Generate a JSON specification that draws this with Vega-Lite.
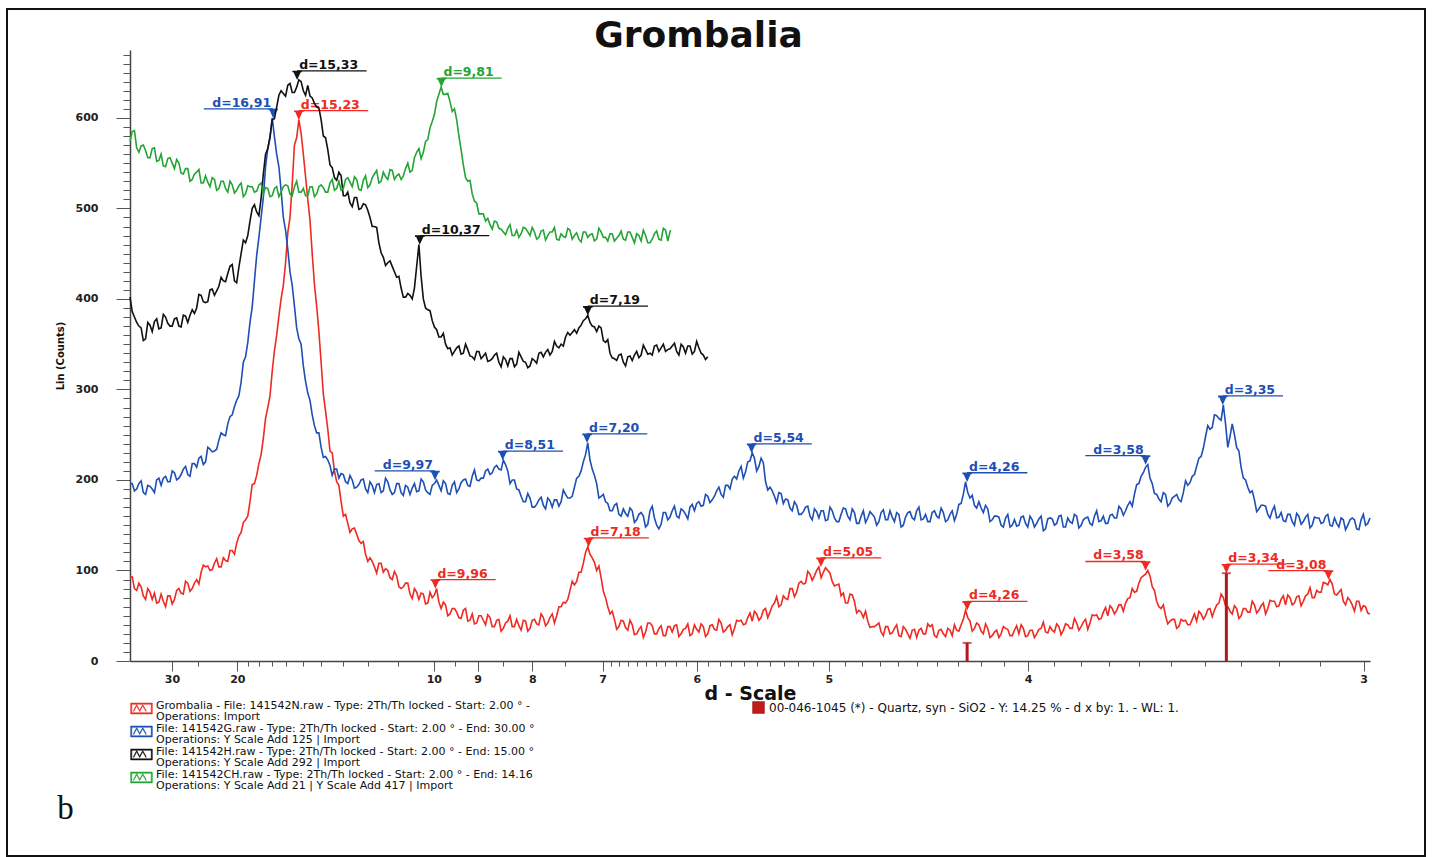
{
  "$schema": "https://vega.github.io/schema/vega-lite/v6.json",
  "width": 1418,
  "height": 847,
  "autosize": {"type": "none"},
  "padding": {"left": 7, "top": 9, "right": 9, "bottom": 1},
  "background": "white",
  "config": {
    "view": {"stroke": "#111111", "strokeWidth": 2},
    "style": {"guide-label": {"lineHeight": 11}},
    "axis": {
      "grid": false,
      "labelFont": "DejaVu Sans",
      "labelFontWeight": "bold",
      "labelFontSize": 11,
      "labelColor": "#222222",
      "domainColor": "#444444",
      "domainWidth": 1.5,
      "tickColor": "#555555",
      "titleFont": "DejaVu Sans",
      "titleFontWeight": "bold",
      "titleColor": "#111111"
    },
    "legend": {"labelFont": "DejaVu Sans", "labelFontSize": 11, "labelColor": "#111111", "labelLimit": 0}
  },
  "datasets": {
    "scan": [
      {"t":2.0,"N":92,"G":196,"H":402,"CH":574},
      {"t":2.1,"N":80,"G":188,"H":380,"CH":586},
      {"t":2.2,"N":86,"G":196,"H":370,"CH":562},
      {"t":2.3,"N":72,"G":186,"H":354,"CH":570},
      {"t":2.4,"N":80,"G":194,"H":374,"CH":556},
      {"t":2.5,"N":68,"G":190,"H":364,"CH":566},
      {"t":2.6,"N":64,"G":200,"H":378,"CH":552},
      {"t":2.7,"N":74,"G":194,"H":368,"CH":560},
      {"t":2.8,"N":60,"G":204,"H":380,"CH":546},
      {"t":2.9,"N":72,"G":198,"H":370,"CH":556},
      {"t":3.0,"N":68,"G":208,"H":378,"CH":544},
      {"t":3.1,"N":80,"G":202,"H":370,"CH":550},
      {"t":3.2,"N":74,"G":212,"H":382,"CH":538},
      {"t":3.3,"N":86,"G":206,"H":374,"CH":544},
      {"t":3.4,"N":80,"G":218,"H":388,"CH":532},
      {"t":3.5,"N":90,"G":214,"H":390,"CH":540},
      {"t":3.6,"N":98,"G":226,"H":404,"CH":528},
      {"t":3.7,"N":104,"G":220,"H":396,"CH":536},
      {"t":3.8,"N":100,"G":234,"H":410,"CH":524},
      {"t":3.9,"N":108,"G":232,"H":404,"CH":532},
      {"t":4.0,"N":104,"G":244,"H":414,"CH":522},
      {"t":4.1,"N":114,"G":250,"H":420,"CH":530},
      {"t":4.2,"N":110,"G":262,"H":428,"CH":518},
      {"t":4.3,"N":122,"G":272,"H":438,"CH":526},
      {"t":4.4,"N":130,"G":288,"H":418,"CH":520},
      {"t":4.5,"N":142,"G":308,"H":450,"CH":528},
      {"t":4.6,"N":156,"G":336,"H":462,"CH":516},
      {"t":4.7,"N":176,"G":374,"H":486,"CH":524},
      {"t":4.8,"N":196,"G":420,"H":504,"CH":518},
      {"t":4.9,"N":218,"G":468,"H":492,"CH":526},
      {"t":5.0,"N":246,"G":512,"H":538,"CH":516},
      {"t":5.1,"N":280,"G":566,"H":566,"CH":522},
      {"t":5.2,"N":320,"G":600,"H":598,"CH":514},
      {"t":5.3,"N":360,"G":560,"H":612,"CH":524},
      {"t":5.4,"N":400,"G":520,"H":630,"CH":518},
      {"t":5.5,"N":440,"G":476,"H":624,"CH":526},
      {"t":5.6,"N":490,"G":430,"H":638,"CH":516},
      {"t":5.7,"N":570,"G":392,"H":628,"CH":524},
      {"t":5.8,"N":598,"G":356,"H":642,"CH":518},
      {"t":5.9,"N":560,"G":326,"H":630,"CH":522},
      {"t":6.0,"N":510,"G":296,"H":636,"CH":514},
      {"t":6.1,"N":450,"G":272,"H":622,"CH":524},
      {"t":6.2,"N":392,"G":252,"H":612,"CH":516},
      {"t":6.3,"N":330,"G":236,"H":598,"CH":526},
      {"t":6.4,"N":276,"G":226,"H":578,"CH":518},
      {"t":6.5,"N":232,"G":216,"H":548,"CH":528},
      {"t":6.6,"N":210,"G":212,"H":534,"CH":520},
      {"t":6.7,"N":194,"G":202,"H":540,"CH":530},
      {"t":6.8,"N":160,"G":206,"H":514,"CH":522},
      {"t":6.9,"N":152,"G":196,"H":518,"CH":534},
      {"t":7.0,"N":146,"G":200,"H":502,"CH":524},
      {"t":7.1,"N":140,"G":192,"H":512,"CH":532},
      {"t":7.2,"N":130,"G":200,"H":500,"CH":520},
      {"t":7.3,"N":118,"G":190,"H":504,"CH":536},
      {"t":7.4,"N":114,"G":198,"H":490,"CH":526},
      {"t":7.5,"N":104,"G":186,"H":480,"CH":538},
      {"t":7.6,"N":108,"G":196,"H":462,"CH":528},
      {"t":7.7,"N":98,"G":188,"H":446,"CH":540},
      {"t":7.8,"N":100,"G":198,"H":440,"CH":532},
      {"t":7.9,"N":90,"G":184,"H":436,"CH":542},
      {"t":8.0,"N":94,"G":196,"H":424,"CH":536},
      {"t":8.1,"N":80,"G":186,"H":412,"CH":532},
      {"t":8.2,"N":86,"G":194,"H":402,"CH":544},
      {"t":8.3,"N":74,"G":184,"H":404,"CH":540},
      {"t":8.4,"N":80,"G":196,"H":412,"CH":556},
      {"t":8.5,"N":68,"G":188,"H":460,"CH":566},
      {"t":8.6,"N":74,"G":198,"H":400,"CH":562},
      {"t":8.7,"N":64,"G":186,"H":388,"CH":576},
      {"t":8.8,"N":70,"G":194,"H":376,"CH":596},
      {"t":8.9,"N":80,"G":200,"H":366,"CH":618},
      {"t":9.0,"N":58,"G":188,"H":358,"CH":634},
      {"t":9.1,"N":62,"G":196,"H":350,"CH":626},
      {"t":9.2,"N":52,"G":184,"H":346,"CH":618},
      {"t":9.3,"N":58,"G":198,"H":342,"CH":610},
      {"t":9.4,"N":48,"G":190,"H":348,"CH":580},
      {"t":9.5,"N":56,"G":200,"H":340,"CH":548},
      {"t":9.6,"N":44,"G":194,"H":344,"CH":530},
      {"t":9.7,"N":52,"G":204,"H":336,"CH":516},
      {"t":9.8,"N":42,"G":200,"H":342,"CH":506},
      {"t":9.9,"N":50,"G":202,"H":334,"CH":494},
      {"t":10.0,"N":40,"G":210,"H":340,"CH":486},
      {"t":10.1,"N":48,"G":206,"H":332,"CH":482},
      {"t":10.2,"N":38,"G":214,"H":338,"CH":486},
      {"t":10.3,"N":46,"G":212,"H":330,"CH":478},
      {"t":10.4,"N":36,"G":222,"H":336,"CH":474},
      {"t":10.5,"N":44,"G":210,"H":326,"CH":478},
      {"t":10.6,"N":38,"G":200,"H":334,"CH":470},
      {"t":10.7,"N":46,"G":190,"H":328,"CH":476},
      {"t":10.8,"N":34,"G":182,"H":336,"CH":472},
      {"t":10.9,"N":44,"G":176,"H":330,"CH":478},
      {"t":11.0,"N":36,"G":180,"H":326,"CH":470},
      {"t":11.1,"N":46,"G":170,"H":332,"CH":474},
      {"t":11.2,"N":40,"G":178,"H":340,"CH":468},
      {"t":11.3,"N":48,"G":172,"H":336,"CH":476},
      {"t":11.4,"N":42,"G":180,"H":344,"CH":470},
      {"t":11.5,"N":52,"G":170,"H":342,"CH":474},
      {"t":11.6,"N":50,"G":178,"H":348,"CH":466},
      {"t":11.7,"N":60,"G":176,"H":350,"CH":472},
      {"t":11.8,"N":64,"G":184,"H":358,"CH":468},
      {"t":11.9,"N":78,"G":180,"H":360,"CH":476},
      {"t":12.0,"N":84,"G":192,"H":366,"CH":470},
      {"t":12.1,"N":98,"G":204,"H":368,"CH":466},
      {"t":12.2,"N":108,"G":220,"H":376,"CH":474},
      {"t":12.3,"N":126,"G":241,"H":382,"CH":468},
      {"t":12.4,"N":114,"G":212,"H":370,"CH":472},
      {"t":12.5,"N":100,"G":196,"H":364,"CH":466},
      {"t":12.6,"N":92,"G":182,"H":368,"CH":474},
      {"t":12.7,"N":70,"G":176,"H":352,"CH":468},
      {"t":12.8,"N":52,"G":166,"H":340,"CH":472},
      {"t":12.9,"N":46,"G":172,"H":334,"CH":464},
      {"t":13.0,"N":38,"G":162,"H":338,"CH":470},
      {"t":13.1,"N":44,"G":168,"H":330,"CH":466},
      {"t":13.2,"N":34,"G":160,"H":336,"CH":474},
      {"t":13.3,"N":40,"G":166,"H":332,"CH":468},
      {"t":13.4,"N":30,"G":156,"H":342,"CH":472},
      {"t":13.5,"N":38,"G":164,"H":338,"CH":464},
      {"t":13.6,"N":32,"G":148,"H":344,"CH":470},
      {"t":13.7,"N":42,"G":166,"H":340,"CH":462},
      {"t":13.8,"N":30,"G":158,"H":348,"CH":472},
      {"t":13.9,"N":36,"G":146,"H":342,"CH":466},
      {"t":14.0,"N":28,"G":164,"H":350,"CH":478},
      {"t":14.1,"N":38,"G":156,"H":344,"CH":464},
      {"t":14.16,"CH":476},
      {"t":14.2,"N":32,"G":166,"H":348},
      {"t":14.3,"N":40,"G":160,"H":342},
      {"t":14.4,"N":30,"G":168,"H":350},
      {"t":14.5,"N":36,"G":162,"H":340},
      {"t":14.6,"N":28,"G":170,"H":348},
      {"t":14.7,"N":40,"G":166,"H":342},
      {"t":14.8,"N":32,"G":176,"H":346},
      {"t":14.9,"N":38,"G":172,"H":338},
      {"t":15.0,"N":30,"G":182,"H":336},
      {"t":15.1,"N":40,"G":178},
      {"t":15.2,"N":34,"G":188},
      {"t":15.3,"N":42,"G":184},
      {"t":15.4,"N":34,"G":194},
      {"t":15.5,"N":40,"G":190},
      {"t":15.6,"N":36,"G":204},
      {"t":15.7,"N":44,"G":210},
      {"t":15.8,"N":40,"G":202},
      {"t":15.9,"N":48,"G":220},
      {"t":16.0,"N":44,"G":230},
      {"t":16.1,"N":52,"G":210},
      {"t":16.2,"N":48,"G":224},
      {"t":16.3,"N":58,"G":198},
      {"t":16.4,"N":54,"G":192},
      {"t":16.5,"N":64,"G":182},
      {"t":16.6,"N":60,"G":186},
      {"t":16.7,"N":72,"G":174},
      {"t":16.8,"N":68,"G":178},
      {"t":16.9,"N":80,"G":166},
      {"t":17.0,"N":76,"G":172},
      {"t":17.1,"N":88,"G":162},
      {"t":17.2,"N":86,"G":170},
      {"t":17.3,"N":96,"G":160},
      {"t":17.4,"N":94,"G":168},
      {"t":17.5,"N":104,"G":158},
      {"t":17.6,"N":98,"G":166},
      {"t":17.7,"N":100,"G":156},
      {"t":17.8,"N":88,"G":166},
      {"t":17.9,"N":84,"G":154},
      {"t":18.0,"N":72,"G":162},
      {"t":18.1,"N":64,"G":168},
      {"t":18.2,"N":74,"G":156},
      {"t":18.3,"N":66,"G":164},
      {"t":18.4,"N":56,"G":152},
      {"t":18.5,"N":48,"G":166},
      {"t":18.6,"N":44,"G":158},
      {"t":18.7,"N":38,"G":162},
      {"t":18.8,"N":40,"G":150},
      {"t":18.9,"N":32,"G":164},
      {"t":19.0,"N":38,"G":156},
      {"t":19.1,"N":30,"G":166},
      {"t":19.2,"N":36,"G":154},
      {"t":19.3,"N":28,"G":162},
      {"t":19.4,"N":38,"G":150},
      {"t":19.5,"N":30,"G":164},
      {"t":19.6,"N":34,"G":158},
      {"t":19.7,"N":26,"G":166},
      {"t":19.8,"N":36,"G":156},
      {"t":19.9,"N":30,"G":162},
      {"t":20.0,"N":38,"G":154},
      {"t":20.1,"N":28,"G":166},
      {"t":20.2,"N":34,"G":158},
      {"t":20.3,"N":30,"G":164},
      {"t":20.4,"N":36,"G":156},
      {"t":20.5,"N":28,"G":166},
      {"t":20.6,"N":34,"G":162},
      {"t":20.7,"N":40,"G":174},
      {"t":20.8,"N":56,"G":198},
      {"t":20.9,"N":44,"G":180},
      {"t":21.0,"N":36,"G":172},
      {"t":21.1,"N":40,"G":176},
      {"t":21.2,"N":30,"G":164},
      {"t":21.3,"N":36,"G":168},
      {"t":21.4,"N":28,"G":156},
      {"t":21.5,"N":34,"G":160},
      {"t":21.6,"N":30,"G":150},
      {"t":21.7,"N":36,"G":158},
      {"t":21.8,"N":28,"G":148},
      {"t":21.9,"N":34,"G":156},
      {"t":22.0,"N":30,"G":150},
      {"t":22.1,"N":36,"G":160},
      {"t":22.2,"N":28,"G":148},
      {"t":22.3,"N":34,"G":156},
      {"t":22.4,"N":30,"G":152},
      {"t":22.5,"N":36,"G":160},
      {"t":22.6,"N":32,"G":146},
      {"t":22.7,"N":38,"G":158},
      {"t":22.8,"N":32,"G":150},
      {"t":22.9,"N":38,"G":160},
      {"t":23.0,"N":34,"G":148},
      {"t":23.1,"N":40,"G":158},
      {"t":23.2,"N":36,"G":152},
      {"t":23.3,"N":42,"G":160},
      {"t":23.4,"N":38,"G":150},
      {"t":23.5,"N":46,"G":158},
      {"t":23.6,"N":42,"G":152},
      {"t":23.7,"N":50,"G":160},
      {"t":23.8,"N":46,"G":154},
      {"t":23.9,"N":54,"G":160},
      {"t":24.0,"N":50,"G":152},
      {"t":24.1,"N":58,"G":162},
      {"t":24.2,"N":56,"G":158},
      {"t":24.3,"N":62,"G":168},
      {"t":24.4,"N":64,"G":166},
      {"t":24.5,"N":70,"G":176},
      {"t":24.6,"N":76,"G":184},
      {"t":24.7,"N":86,"G":196},
      {"t":24.8,"N":94,"G":208},
      {"t":24.9,"N":100,"G":217},
      {"t":25.0,"N":82,"G":196},
      {"t":25.1,"N":66,"G":184},
      {"t":25.2,"N":58,"G":176},
      {"t":25.3,"N":50,"G":184},
      {"t":25.4,"N":44,"G":174},
      {"t":25.5,"N":46,"G":182},
      {"t":25.6,"N":38,"G":178},
      {"t":25.7,"N":44,"G":186},
      {"t":25.8,"N":40,"G":194},
      {"t":25.9,"N":46,"G":204},
      {"t":26.0,"N":44,"G":215},
      {"t":26.1,"N":52,"G":226},
      {"t":26.2,"N":50,"G":248},
      {"t":26.3,"N":58,"G":256},
      {"t":26.4,"N":56,"G":272},
      {"t":26.5,"N":64,"G":268},
      {"t":26.6,"N":70,"G":283},
      {"t":26.7,"N":60,"G":236},
      {"t":26.8,"N":52,"G":262},
      {"t":26.9,"N":58,"G":236},
      {"t":27.0,"N":50,"G":214},
      {"t":27.1,"N":58,"G":200},
      {"t":27.2,"N":54,"G":186},
      {"t":27.3,"N":62,"G":178},
      {"t":27.4,"N":56,"G":168},
      {"t":27.5,"N":64,"G":172},
      {"t":27.6,"N":58,"G":162},
      {"t":27.7,"N":66,"G":166},
      {"t":27.8,"N":60,"G":158},
      {"t":27.9,"N":68,"G":164},
      {"t":28.0,"N":62,"G":154},
      {"t":28.1,"N":70,"G":162},
      {"t":28.2,"N":64,"G":150},
      {"t":28.3,"N":72,"G":160},
      {"t":28.4,"N":66,"G":154},
      {"t":28.5,"N":74,"G":162},
      {"t":28.6,"N":70,"G":150},
      {"t":28.7,"N":78,"G":158},
      {"t":28.8,"N":76,"G":152},
      {"t":28.9,"N":86,"G":160},
      {"t":29.0,"N":90,"G":150},
      {"t":29.1,"N":74,"G":158},
      {"t":29.2,"N":76,"G":148},
      {"t":29.3,"N":66,"G":156},
      {"t":29.4,"N":70,"G":150},
      {"t":29.5,"N":62,"G":158},
      {"t":29.6,"N":66,"G":146},
      {"t":29.7,"N":56,"G":156},
      {"t":29.8,"N":60,"G":150},
      {"t":29.9,"N":52,"G":158},
      {"t":2.05,"N":93,"G":196,"H":386,"CH":585},
      {"t":2.15,"N":78,"G":190,"H":374,"CH":567},
      {"t":2.25,"N":82,"G":199,"H":368,"CH":569},
      {"t":2.35,"N":68,"G":184,"H":356,"CH":564},
      {"t":2.45,"N":76,"G":193,"H":371,"CH":556},
      {"t":2.55,"N":75,"G":186,"H":375,"CH":567},
      {"t":2.65,"N":65,"G":202,"H":367,"CH":553},
      {"t":2.75,"N":66,"G":202,"H":383,"CH":547},
      {"t":2.85,"N":72,"G":198,"H":373,"CH":555},
      {"t":2.95,"N":63,"G":210,"H":370,"CH":550},
      {"t":3.05,"N":78,"G":200,"H":379,"CH":554},
      {"t":3.15,"N":75,"G":206,"H":369,"CH":539},
      {"t":3.25,"N":88,"G":215,"H":381,"CH":544},
      {"t":3.35,"N":77,"G":204,"H":382,"CH":530},
      {"t":3.45,"N":86,"G":218,"H":384,"CH":538},
      {"t":3.55,"N":85,"G":224,"H":405,"CH":543},
      {"t":3.65,"N":106,"G":217,"H":397,"CH":528},
      {"t":3.75,"N":105,"G":236,"H":397,"CH":529},
      {"t":3.85,"N":101,"G":231,"H":411,"CH":534},
      {"t":3.95,"N":113,"G":234,"H":409,"CH":520},
      {"t":4.05,"N":104,"G":252,"H":424,"CH":530},
      {"t":4.15,"N":111,"G":249,"H":419,"CH":522},
      {"t":4.25,"N":122,"G":270,"H":436,"CH":530},
      {"t":4.35,"N":118,"G":281,"H":420,"CH":517},
      {"t":4.45,"N":138,"G":293,"H":435,"CH":525},
      {"t":4.55,"N":153,"G":330,"H":465,"CH":513},
      {"t":4.65,"N":160,"G":352,"H":470,"CH":525},
      {"t":4.75,"N":195,"G":391,"H":500,"CH":524},
      {"t":4.85,"N":205,"G":448,"H":496,"CH":519},
      {"t":4.95,"N":228,"G":490,"H":511,"CH":528},
      {"t":5.05,"N":268,"G":546,"H":560,"CH":523},
      {"t":5.15,"N":293,"G":578,"H":579,"CH":513},
      {"t":5.25,"N":343,"G":579,"H":599,"CH":522},
      {"t":5.35,"N":381,"G":546,"H":625,"CH":513},
      {"t":5.45,"N":415,"G":490,"H":627,"CH":524},
      {"t":5.55,"N":473,"G":455,"H":636,"CH":525},
      {"t":5.65,"N":527,"G":415,"H":628,"CH":514},
      {"t":5.75,"N":578,"G":368,"H":634,"CH":530},
      {"t":5.85,"N":583,"G":350,"H":640,"CH":518},
      {"t":5.95,"N":535,"G":309,"H":625,"CH":514},
      {"t":6.05,"N":487,"G":288,"H":624,"CH":524},
      {"t":6.15,"N":416,"G":260,"H":616,"CH":513},
      {"t":6.25,"N":364,"G":252,"H":611,"CH":524},
      {"t":6.35,"N":295,"G":225,"H":580,"CH":523},
      {"t":6.45,"N":256,"G":222,"H":565,"CH":518},
      {"t":6.55,"N":230,"G":205,"H":545,"CH":532},
      {"t":6.65,"N":198,"G":212,"H":531,"CH":522},
      {"t":6.75,"N":176,"G":207,"H":536,"CH":520},
      {"t":6.85,"N":162,"G":198,"H":514,"CH":532},
      {"t":6.95,"N":142,"G":205,"H":506,"CH":529},
      {"t":7.05,"N":147,"G":191,"H":512,"CH":535},
      {"t":7.15,"N":133,"G":195,"H":499,"CH":521},
      {"t":7.25,"N":132,"G":201,"H":505,"CH":531},
      {"t":7.35,"N":110,"G":186,"H":498,"CH":523},
      {"t":7.45,"N":110,"G":194,"H":480,"CH":534},
      {"t":7.55,"N":97,"G":195,"H":479,"CH":542},
      {"t":7.65,"N":108,"G":186,"H":451,"CH":530},
      {"t":7.75,"N":102,"G":202,"H":437,"CH":535},
      {"t":7.85,"N":92,"G":189,"H":442,"CH":543},
      {"t":7.95,"N":99,"G":186,"H":430,"CH":532},
      {"t":8.05,"N":82,"G":196,"H":425,"CH":538},
      {"t":8.15,"N":82,"G":183,"H":402,"CH":536},
      {"t":8.25,"N":86,"G":192,"H":406,"CH":550},
      {"t":8.35,"N":69,"G":191,"H":400,"CH":542},
      {"t":8.45,"N":76,"G":187,"H":436,"CH":562},
      {"t":8.55,"N":75,"G":201,"H":425,"CH":555},
      {"t":8.65,"N":63,"G":189,"H":390,"CH":574},
      {"t":8.75,"N":76,"G":184,"H":387,"CH":589},
      {"t":8.85,"N":73,"G":196,"H":369,"CH":604},
      {"t":8.95,"N":65,"G":194,"H":358,"CH":626},
      {"t":9.05,"N":65,"G":199,"H":362,"CH":626},
      {"t":9.15,"N":50,"G":185,"H":345,"CH":627},
      {"t":9.25,"N":58,"G":194,"H":338,"CH":607},
      {"t":9.35,"N":54,"G":186,"H":346,"CH":598},
      {"t":9.45,"N":47,"G":197,"H":339,"CH":565},
      {"t":9.55,"N":58,"G":201,"H":350,"CH":534},
      {"t":9.65,"N":45,"G":193,"H":337,"CH":531},
      {"t":9.75,"N":41,"G":211,"H":333,"CH":508},
      {"t":9.85,"N":50,"G":199,"H":342,"CH":494},
      {"t":9.95,"N":45,"G":202,"H":337,"CH":494},
      {"t":10.05,"N":51,"G":212,"H":331,"CH":489},
      {"t":10.15,"N":38,"G":208,"H":334,"CH":477},
      {"t":10.25,"N":45,"G":216,"H":340,"CH":485},
      {"t":10.35,"N":33,"G":211,"H":325,"CH":477},
      {"t":10.45,"N":42,"G":217,"H":333,"CH":471},
      {"t":10.55,"N":50,"G":196,"H":334,"CH":482},
      {"t":10.65,"N":38,"G":200,"H":325,"CH":470},
      {"t":10.75,"N":39,"G":189,"H":341,"CH":468},
      {"t":10.85,"N":45,"G":176,"H":331,"CH":479},
      {"t":10.95,"N":33,"G":185,"H":324,"CH":474},
      {"t":11.05,"N":45,"G":170,"H":334,"CH":479},
      {"t":11.15,"N":41,"G":173,"H":329,"CH":466},
      {"t":11.25,"N":52,"G":181,"H":341,"CH":475},
      {"t":11.35,"N":39,"G":168,"H":341,"CH":465},
      {"t":11.45,"N":48,"G":177,"H":338,"CH":474},
      {"t":11.55,"N":42,"G":178,"H":353,"CH":479},
      {"t":11.65,"N":60,"G":171,"H":346,"CH":465},
      {"t":11.75,"N":65,"G":189,"H":348,"CH":469},
      {"t":11.85,"N":68,"G":180,"H":363,"CH":478},
      {"t":11.95,"N":88,"G":182,"H":363,"CH":466},
      {"t":12.05,"N":88,"G":202,"H":362,"CH":473},
      {"t":12.15,"N":98,"G":210,"H":371,"CH":463},
      {"t":12.25,"N":120,"G":228,"H":378,"CH":474},
      {"t":12.35,"N":118,"G":222,"H":374,"CH":471},
      {"t":12.45,"N":109,"G":205,"H":369,"CH":464},
      {"t":12.55,"N":105,"G":180,"H":370,"CH":478},
      {"t":12.65,"N":77,"G":184,"H":354,"CH":468},
      {"t":12.75,"N":60,"G":174,"H":355,"CH":464},
      {"t":12.85,"N":55,"G":166,"H":335,"CH":472},
      {"t":12.95,"N":35,"G":174,"H":332,"CH":467},
      {"t":13.05,"N":45,"G":160,"H":339,"CH":475},
      {"t":13.15,"N":37,"G":163,"H":326,"CH":465},
      {"t":13.25,"N":45,"G":169,"H":337,"CH":474},
      {"t":13.35,"N":29,"G":153,"H":338,"CH":462},
      {"t":13.45,"N":35,"G":162,"H":335,"CH":470},
      {"t":13.55,"N":26,"G":160,"H":349,"CH":476},
      {"t":13.65,"N":42,"G":151,"H":339,"CH":462},
      {"t":13.75,"N":39,"G":171,"H":338,"CH":466},
      {"t":13.85,"N":30,"G":150,"H":349,"CH":475},
      {"t":13.95,"N":39,"G":151,"H":346,"CH":465},
      {"t":14.05,"N":28,"G":164,"H":342,"CH":476},
      {"t":14.15,"N":38,"G":159,"H":345},
      {"t":14.25,"N":39,"G":171,"H":351},
      {"t":14.35,"N":27,"G":158,"H":338},
      {"t":14.45,"N":35,"G":166,"H":347},
      {"t":14.55,"N":41,"G":157,"H":348},
      {"t":14.65,"N":30,"G":173,"H":339},
      {"t":14.75,"N":35,"G":174,"H":353},
      {"t":14.85,"N":41,"G":171,"H":340},
      {"t":14.95,"N":27,"G":184,"H":333},
      {"t":15.05,"N":39,"G":175},
      {"t":15.15,"N":35,"G":182},
      {"t":15.25,"N":46,"G":192},
      {"t":15.35,"N":32,"G":181},
      {"t":15.45,"N":38,"G":194},
      {"t":15.55,"N":29,"G":201},
      {"t":15.65,"N":45,"G":201},
      {"t":15.75,"N":45,"G":215},
      {"t":15.85,"N":41,"G":209},
      {"t":15.95,"N":53,"G":221},
      {"t":16.05,"N":55,"G":224},
      {"t":16.15,"N":45,"G":215},
      {"t":16.25,"N":56,"G":219},
      {"t":16.35,"N":48,"G":189},
      {"t":16.45,"N":61,"G":188},
      {"t":16.55,"N":71,"G":175},
      {"t":16.65,"N":62,"G":185},
      {"t":16.75,"N":69,"G":179},
      {"t":16.85,"N":80,"G":169},
      {"t":16.95,"N":71,"G":176},
      {"t":17.05,"N":86,"G":162},
      {"t":17.15,"N":85,"G":165},
      {"t":17.25,"N":99,"G":171},
      {"t":17.35,"N":89,"G":156},
      {"t":17.45,"N":100,"G":165},
      {"t":17.55,"N":92,"G":166},
      {"t":17.65,"N":103,"G":155},
      {"t":17.75,"N":97,"G":170},
      {"t":17.85,"N":83,"G":158},
      {"t":17.95,"N":85,"G":154},
      {"t":18.05,"N":75,"G":169},
      {"t":18.15,"N":64,"G":160},
      {"t":18.25,"N":73,"G":168},
      {"t":18.35,"N":53,"G":152},
      {"t":18.45,"N":54,"G":160},
      {"t":18.55,"N":55,"G":153},
      {"t":18.65,"N":37,"G":165},
      {"t":18.75,"N":38,"G":159},
      {"t":18.85,"N":42,"G":154},
      {"t":18.95,"N":28,"G":167},
      {"t":19.05,"N":38,"G":156},
      {"t":19.15,"N":31,"G":159},
      {"t":19.25,"N":40,"G":164},
      {"t":19.35,"N":27,"G":148},
      {"t":19.45,"N":35,"G":159},
      {"t":19.55,"N":25,"G":165},
      {"t":19.65,"N":35,"G":156},
      {"t":19.75,"N":34,"G":170},
      {"t":19.85,"N":30,"G":157},
      {"t":19.95,"N":41,"G":154},
      {"t":20.05,"N":40,"G":164},
      {"t":20.15,"N":26,"G":160},
      {"t":20.25,"N":35,"G":169},
      {"t":20.35,"N":27,"G":154},
      {"t":20.45,"N":34,"G":162},
      {"t":20.55,"N":40,"G":155},
      {"t":20.65,"N":33,"G":173},
      {"t":20.75,"N":46,"G":184},
      {"t":20.85,"N":48,"G":186},
      {"t":20.95,"N":33,"G":183},
      {"t":21.05,"N":42,"G":169},
      {"t":21.15,"N":33,"G":169},
      {"t":21.25,"N":41,"G":172},
      {"t":21.35,"N":26,"G":154},
      {"t":21.45,"N":32,"G":160},
      {"t":21.55,"N":26,"G":159},
      {"t":21.65,"N":38,"G":148},
      {"t":21.75,"N":35,"G":162},
      {"t":21.85,"N":28,"G":150},
      {"t":21.95,"N":39,"G":149},
      {"t":22.05,"N":40,"G":159},
      {"t":22.15,"N":27,"G":152},
      {"t":22.25,"N":34,"G":160},
      {"t":22.35,"N":26,"G":148},
      {"t":22.45,"N":35,"G":157},
      {"t":22.55,"N":43,"G":144},
      {"t":22.65,"N":31,"G":157},
      {"t":22.75,"N":34,"G":157},
      {"t":22.85,"N":41,"G":152},
      {"t":22.95,"N":29,"G":161},
      {"t":23.05,"N":41,"G":148},
      {"t":23.15,"N":36,"G":154},
      {"t":23.25,"N":47,"G":162},
      {"t":23.35,"N":34,"G":147},
      {"t":23.45,"N":43,"G":156},
      {"t":23.55,"N":35,"G":159},
      {"t":23.65,"N":51,"G":150},
      {"t":23.75,"N":51,"G":166},
      {"t":23.85,"N":47,"G":155},
      {"t":23.95,"N":59,"G":152},
      {"t":24.05,"N":61,"G":161},
      {"t":24.15,"N":52,"G":158},
      {"t":24.25,"N":62,"G":171},
      {"t":24.35,"N":55,"G":161},
      {"t":24.45,"N":69,"G":172},
      {"t":24.55,"N":80,"G":171},
      {"t":24.65,"N":77,"G":195},
      {"t":24.75,"N":92,"G":204},
      {"t":24.85,"N":96,"G":214},
      {"t":24.95,"N":94,"G":202},
      {"t":25.05,"N":78,"G":185},
      {"t":25.15,"N":60,"G":179},
      {"t":25.25,"N":62,"G":186},
      {"t":25.35,"N":41,"G":171},
      {"t":25.45,"N":46,"G":180},
      {"t":25.55,"N":36,"G":184},
      {"t":25.65,"N":46,"G":176},
      {"t":25.75,"N":45,"G":199},
      {"t":25.85,"N":40,"G":197},
      {"t":25.95,"N":52,"G":206},
      {"t":26.05,"N":55,"G":224},
      {"t":26.15,"N":46,"G":235},
      {"t":26.25,"N":57,"G":260},
      {"t":26.35,"N":49,"G":258},
      {"t":26.45,"N":62,"G":271},
      {"t":26.55,"N":74,"G":266},
      {"t":26.65,"N":61,"G":262},
      {"t":26.75,"N":55,"G":248},
      {"t":26.85,"N":61,"G":250},
      {"t":26.95,"N":47,"G":232},
      {"t":27.05,"N":58,"G":202},
      {"t":27.15,"N":54,"G":192},
      {"t":27.25,"N":66,"G":188},
      {"t":27.35,"N":53,"G":165},
      {"t":27.45,"N":61,"G":172},
      {"t":27.55,"N":52,"G":171},
      {"t":27.65,"N":67,"G":158},
      {"t":27.75,"N":66,"G":171},
      {"t":27.85,"N":61,"G":159},
      {"t":27.95,"N":72,"G":155},
      {"t":28.05,"N":73,"G":162},
      {"t":28.15,"N":62,"G":154},
      {"t":28.25,"N":71,"G":163},
      {"t":28.35,"N":61,"G":151},
      {"t":28.45,"N":72,"G":159},
      {"t":28.55,"N":81,"G":147},
      {"t":28.65,"N":70,"G":159},
      {"t":28.75,"N":76,"G":158},
      {"t":28.85,"N":87,"G":153},
      {"t":28.95,"N":84,"G":162},
      {"t":29.05,"N":85,"G":149},
      {"t":29.15,"N":73,"G":152},
      {"t":29.25,"N":79,"G":158},
      {"t":29.35,"N":62,"G":145},
      {"t":29.45,"N":67,"G":156},
      {"t":29.55,"N":55,"G":156},
      {"t":29.65,"N":66,"G":145},
      {"t":29.75,"N":61,"G":162},
      {"t":29.85,"N":53,"G":152}
    ],
    "peaksRight": [
      {"s":"N","d":15.23,"c":598},
      {"s":"N","d":9.96,"c":80},
      {"s":"N","d":7.18,"c":126},
      {"s":"N","d":5.05,"c":104},
      {"s":"N","d":4.26,"c":56},
      {"s":"N","d":3.34,"c":97},
      {"s":"G","d":8.51,"c":222},
      {"s":"G","d":7.20,"c":241},
      {"s":"G","d":5.54,"c":230},
      {"s":"G","d":4.26,"c":198},
      {"s":"G","d":3.35,"c":283},
      {"s":"H","d":15.33,"c":642},
      {"s":"H","d":10.37,"c":460},
      {"s":"H","d":7.19,"c":382},
      {"s":"CH","d":9.81,"c":634}
    ],
    "peaksLeft": [
      {"s":"G","d":16.91,"c":600},
      {"s":"G","d":9.97,"c":200},
      {"s":"G","d":3.58,"c":217},
      {"s":"N","d":3.58,"c":100},
      {"s":"N","d":3.08,"c":90}
    ],
    "quartz": [
      {"phase":"00-046-1045 (*) - Quartz, syn - SiO2 - Y: 14.25 % - d x by: 1. - WL: 1.","d":4.26,"c":20},
      {"phase":"00-046-1045 (*) - Quartz, syn - SiO2 - Y: 14.25 % - d x by: 1. - WL: 1.","d":3.34,"c":97}
    ]
  },
  "encoding": {
    "x": {
      "field": "t",
      "type": "quantitative",
      "scale": {"domain": [2, 29.9], "range": [123, 1363], "nice": false, "zero": false},
      "axis": {
        "orient": "bottom",
        "offset": -195,
        "values": [2.9427, 4.4146, 8.8358, 9.8198, 11.0509, 12.6356, 14.7523, 17.7246, 22.2062, 29.7567],
        "labelExpr": "format(1.5406 / (2 * sin(datum.value * PI / 360)), '.0f')",
        "tickSize": 10,
        "labelPadding": 2,
        "title": "d - Scale",
        "titleFontSize": 19,
        "titlePadding": 0
      }
    },
    "y": {
      "field": "c",
      "type": "quantitative",
      "scale": {"domain": [0, 675], "range": [652, 41], "nice": false, "zero": false},
      "axis": {
        "orient": "left",
        "offset": -123,
        "values": [0, 100, 200, 300, 400, 500, 600],
        "tickSize": 14,
        "labelPadding": 18,
        "title": "Lin (Counts)",
        "titleFontSize": 10,
        "titlePadding": 10
      }
    }
  },
  "layer": [
    {
      "layer": [
        {
          "data": {"name": "peaksRight"},
          "transform": [
            {"calculate": "360 / PI * asin(1.5406 / (2 * datum.d))", "as": "t"},
            {"calculate": "'d=' + replace(format(datum.d, '.2f'), '.', ',')", "as": "lab"},
            {"calculate": "datum.t + (length(datum.lab) * 9.2 + 5) / 44.4", "as": "t2"}
          ],
          "layer": [
            {
              "mark": {"type": "rule", "strokeWidth": 1.3, "yOffset": -9},
              "encoding": {"x2": {"field": "t2"}, "color": {"field": "s", "type": "nominal"}}
            },
            {
              "mark": {"type": "text", "align": "left", "baseline": "alphabetic", "dx": 2, "dy": -11, "font": "DejaVu Sans", "fontWeight": "bold", "fontSize": 12.5},
              "encoding": {
                "text": {"field": "lab"},
                "fill": {"field": "s", "type": "nominal", "legend": null, "scale": {"domain": ["N", "G", "H", "CH"], "range": ["#ee2a22", "#1d4fb5", "#111111", "#23a435"]}}
              }
            },
            {
              "mark": {"type": "point", "shape": "M-1,-1H1V-0.65H-1Z M-0.75,-0.65H0.75L0,1Z", "filled": true, "size": 90, "yOffset": -4.5, "opacity": 1},
              "encoding": {
                "fill": {"field": "s", "type": "nominal", "legend": null, "scale": {"domain": ["N", "G", "H", "CH"], "range": ["#ee2a22", "#1d4fb5", "#111111", "#23a435"]}}
              }
            }
          ]
        },
        {
          "data": {"name": "peaksLeft"},
          "transform": [
            {"calculate": "360 / PI * asin(1.5406 / (2 * datum.d))", "as": "t"},
            {"calculate": "'d=' + replace(format(datum.d, '.2f'), '.', ',')", "as": "lab"},
            {"calculate": "datum.t - (length(datum.lab) * 9.2 + 5) / 44.4", "as": "t2"}
          ],
          "layer": [
            {
              "mark": {"type": "rule", "strokeWidth": 1.3, "yOffset": -9},
              "encoding": {"x2": {"field": "t2"}, "color": {"field": "s", "type": "nominal"}}
            },
            {
              "mark": {"type": "text", "align": "right", "baseline": "alphabetic", "dx": -2, "dy": -11, "font": "DejaVu Sans", "fontWeight": "bold", "fontSize": 12.5},
              "encoding": {
                "text": {"field": "lab"},
                "fill": {"field": "s", "type": "nominal", "legend": null, "scale": {"domain": ["N", "G", "H", "CH"], "range": ["#ee2a22", "#1d4fb5", "#111111", "#23a435"]}}
              }
            },
            {
              "mark": {"type": "point", "shape": "M-1,-1H1V-0.65H-1Z M-0.75,-0.65H0.75L0,1Z", "filled": true, "size": 90, "yOffset": -4.5, "opacity": 1},
              "encoding": {
                "fill": {"field": "s", "type": "nominal", "legend": null, "scale": {"domain": ["N", "G", "H", "CH"], "range": ["#ee2a22", "#1d4fb5", "#111111", "#23a435"]}}
              }
            }
          ]
        },
        {
          "data": {"name": "scan"},
          "transform": [
            {"fold": ["N", "G", "H", "CH"], "as": ["s", "c"]},
            {"filter": "isValid(datum.c)"}
          ],
          "mark": {"type": "line", "strokeWidth": 1.6, "interpolate": "linear"},
          "encoding": {
            "color": {
              "field": "s",
              "type": "nominal",
              "scale": {"domain": ["N", "G", "H", "CH"], "range": ["#ee2a22", "#1d4fb5", "#111111", "#23a435"]},
              "legend": {
                "orient": "none",
                "legendX": 128,
                "legendY": 693,
                "title": null,
                "direction": "vertical",
                "symbolType": "M-1.8,-0.9H1.8V0.9H-1.8Z M-1.62,-0.72V0.72H1.62V-0.72Z M-1.3,0.5L-0.8,-0.45L-0.3,0.5L0.2,-0.45L0.75,0.5L0.75,0.3L0.2,-0.65L-0.3,0.3L-0.8,-0.65L-1.3,0.3Z",
                "symbolSize": 144,
                "symbolStrokeWidth": 0.6,
                "labelOffset": 8,
                "rowPadding": 0,
                "labelBaseline": "alphabetic",
                "labelExpr": "datum.value == 'N' ? ['Grombalia - File: 141542N.raw - Type: 2Th/Th locked - Start: 2.00 ° -', 'Operations: Import'] : datum.value == 'G' ? ['File: 141542G.raw - Type: 2Th/Th locked - Start: 2.00 ° - End: 30.00 °', 'Operations: Y Scale Add 125 | Import'] : datum.value == 'H' ? ['File: 141542H.raw - Type: 2Th/Th locked - Start: 2.00 ° - End: 15.00 °', 'Operations: Y Scale Add 292 | Import'] : ['File: 141542CH.raw - Type: 2Th/Th locked - Start: 2.00 ° - End: 14.16', 'Operations: Y Scale Add 21 | Y Scale Add 417 | Import']"
              }
            }
          }
        }
      ]
    },
    {
      "data": {"name": "quartz"},
      "transform": [
        {"calculate": "360 / PI * asin(1.5406 / (2 * datum.d))", "as": "t"}
      ],
      "encoding": {
        "x": {
          "field": "t",
          "type": "quantitative",
          "scale": {"domain": [2, 29.9], "range": [123, 1363], "nice": false, "zero": false},
          "axis": {
            "orient": "bottom",
            "offset": -195,
            "values": [3.5314, 4.6471, 4.9054, 5.1942, 5.5191, 5.8872, 6.3081, 6.794, 7.3609, 8.0311, 9.3017, 10.3991, 11.7902, 12.8195, 13.0088, 13.2038, 13.4048, 13.612, 13.8257, 14.0463, 14.274, 14.5093, 15.0039, 15.2641, 15.5335, 15.8127, 16.1021, 16.4022, 16.714, 17.0377, 17.3743, 18.0893, 18.4694, 18.8659, 19.28, 19.7126, 20.1652, 20.6393, 21.1363, 21.6579, 22.7831, 23.3911, 24.0326, 24.7105, 25.4282, 26.1891, 26.9975, 27.858, 28.7757],
            "labels": false,
            "domain": false,
            "tickSize": 5,
            "title": "b",
            "titleFont": "Liberation Serif",
            "titleFontWeight": "normal",
            "titleFontSize": 33,
            "titleAlign": "center",
            "titleBaseline": "alphabetic",
            "titleX": 58,
            "titleY": 157
          }
        },
        "y": {
          "field": "c",
          "type": "quantitative",
          "scale": {"domain": [0, 675], "range": [652, 41], "nice": false, "zero": false},
          "axis": {
            "orient": "left",
            "offset": -123,
            "values": [10,20,30,40,50,60,70,80,90,110,120,130,140,150,160,170,180,190,210,220,230,240,250,260,270,280,290,310,320,330,340,350,360,370,380,390,410,420,430,440,450,460,470,480,490,510,520,530,540,550,560,570,580,590,610,620,630,640,650,660,670],
            "labels": false,
            "domain": false,
            "tickSize": 7,
            "title": "Grombalia",
            "titleAngle": 0,
            "titleFont": "DejaVu Sans",
            "titleFontSize": 36,
            "titleFontWeight": "bold",
            "titleAlign": "center",
            "titleBaseline": "alphabetic",
            "titleX": 568,
            "titleY": 37
          }
        }
      },
      "layer": [
        {
          "mark": {"type": "rule", "strokeWidth": 3},
          "encoding": {
            "y2": {"datum": 0},
            "stroke": {
              "field": "phase",
              "type": "nominal",
              "scale": {"range": ["#b3181b"]},
              "legend": {
                "orient": "none",
                "legendX": 745,
                "legendY": 692,
                "title": null,
                "symbolType": "square",
                "symbolSize": 120,
                "symbolFillColor": "#c01a1d",
                "symbolStrokeWidth": 1.5,
                "labelOffset": 4,
                "labelFontSize": 12
              }
            }
          }
        },
        {
          "mark": {"type": "tick", "orient": "horizontal", "size": 9, "thickness": 2, "color": "#b3181b"}
        }
      ]
    }
  ],
  "resolve": {"axis": {"x": "independent", "y": "independent"}}
}
